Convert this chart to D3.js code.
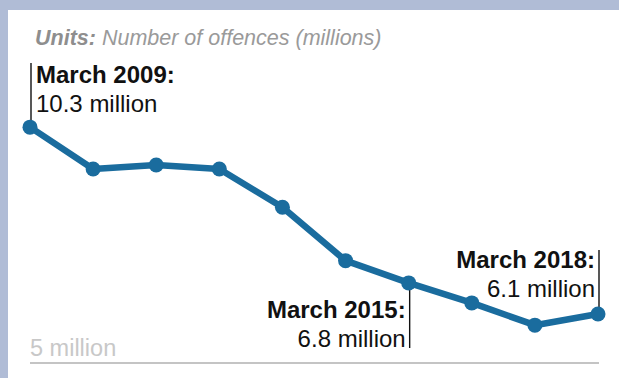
<!DOCTYPE html>
<html lang="en">
<head>
    <meta charset="UTF-8">
    <title>Number of offences</title>
    <script src="https://d3js.org/d3.v7.min.js"></script>
    <style>
        body { margin: 0; background: #fff; }
        svg { display: block; font-family: "Liberation Sans", Arial, sans-serif; }
    </style>
</head>
<body>
<script>
// Data
const periods = ["Mar 2009", "Mar 2010", "Mar 2011", "Mar 2012", "Mar 2013",
                 "Mar 2014", "Mar 2015", "Mar 2016", "Mar 2017", "Mar 2018"];
const offences = [10.3, 9.36, 9.45, 9.36, 8.5, 7.3, 6.8, 6.35, 5.85, 6.1];
const baselineValue = 5;
const baselineLabel = "5 million";

// Callouts: which period, heading, value text, side
const calloutPeriods = ["Mar 2009", "Mar 2015", "Mar 2018"];
const calloutTitles = ["March 2009:", "March 2015:", "March 2018:"];
const calloutValues = ["10.3 million", "6.8 million", "6.1 million"];
const calloutSides = ["above-right", "below-left", "above-left"];

const W = 619, H = 378;

const svg = d3.select("body").append("svg")
    .attr("width", W)
    .attr("height", H);

// frame
svg.append("rect").attr("width", W).attr("height", H).attr("fill", "#fff");
svg.append("rect").attr("width", W).attr("height", 10).attr("fill", "#b0bcd6");
svg.append("rect").attr("width", 8).attr("height", H).attr("fill", "#b0bcd6");

// Scales
const x = d3.scalePoint().domain(periods).range([30, 598]);
const y = d3.scaleLinear().domain([5, 11]).range([363, 96]);

// Units title
const units = svg.append("text")
    .attr("x", 35)
    .attr("y", 45)
    .attr("font-size", 21.5)
    .attr("font-style", "italic")
    .attr("fill", "#9a9a9a");
units.append("tspan").attr("font-weight", "bold").attr("fill", "#8e8e8e").text("Units:");
units.append("tspan").text(" Number of offences (millions)");

// Baseline
svg.append("line")
    .attr("x1", x(periods[0]))
    .attr("x2", x(periods[periods.length - 1]) + 1)
    .attr("y1", y(baselineValue))
    .attr("y2", y(baselineValue))
    .attr("stroke", "#c4c4c4")
    .attr("stroke-width", 2);

svg.append("text")
    .attr("x", x(periods[0]))
    .attr("y", y(baselineValue) - 7)
    .attr("font-size", 23.5)
    .attr("fill", "#c8c8c8")
    .text(baselineLabel);

// Callout leader lines (behind the line)
const callouts = calloutPeriods.map((p, i) => ({
    period: p,
    title: calloutTitles[i],
    value: calloutValues[i],
    side: calloutSides[i],
    v: offences[periods.indexOf(p)]
}));

const lead = svg.append("g");
callouts.forEach(c => {
    const cx = x(c.period) + 1;
    const cy = y(c.v);
    let y1, y2;
    if (c.side === "above-right") { y1 = 63; y2 = cy; }
    else if (c.side === "above-left") { y1 = 250; y2 = cy; }
    else { y1 = cy; y2 = 348; }
    lead.append("line")
        .attr("x1", cx).attr("x2", cx)
        .attr("y1", y1).attr("y2", y2)
        .attr("stroke", "#111")
        .attr("stroke-width", 1.4);
});

// Line
const lineColor = "#1a6c9e";
const line = d3.line()
    .x((d, i) => x(periods[i]))
    .y(d => y(d));

svg.append("path")
    .datum(offences)
    .attr("fill", "none")
    .attr("stroke", lineColor)
    .attr("stroke-width", 6.5)
    .attr("stroke-linejoin", "round")
    .attr("d", line);

svg.selectAll(".dot")
    .data(offences)
    .enter()
    .append("circle")
    .attr("class", "dot")
    .attr("cx", (d, i) => x(periods[i]))
    .attr("cy", d => y(d))
    .attr("r", 7.5)
    .attr("fill", lineColor);

// Callout texts
callouts.forEach(c => {
    const cx = x(c.period) + 1;
    let tx, anchor, base;
    if (c.side === "above-right") { tx = cx + 5; anchor = "start"; base = 83; }
    else if (c.side === "above-left") { tx = cx - 4; anchor = "end"; base = 268; }
    else { tx = cx - 4; anchor = "end"; base = 318; }
    const t = svg.append("text")
        .attr("x", tx)
        .attr("y", base)
        .attr("text-anchor", anchor)
        .attr("font-size", 24)
        .attr("fill", "#111");
    t.append("tspan").attr("font-weight", "bold").text(c.title);
    t.append("tspan").attr("x", tx).attr("dy", 28.5).text(c.value);
});
</script>
</body>
</html>
